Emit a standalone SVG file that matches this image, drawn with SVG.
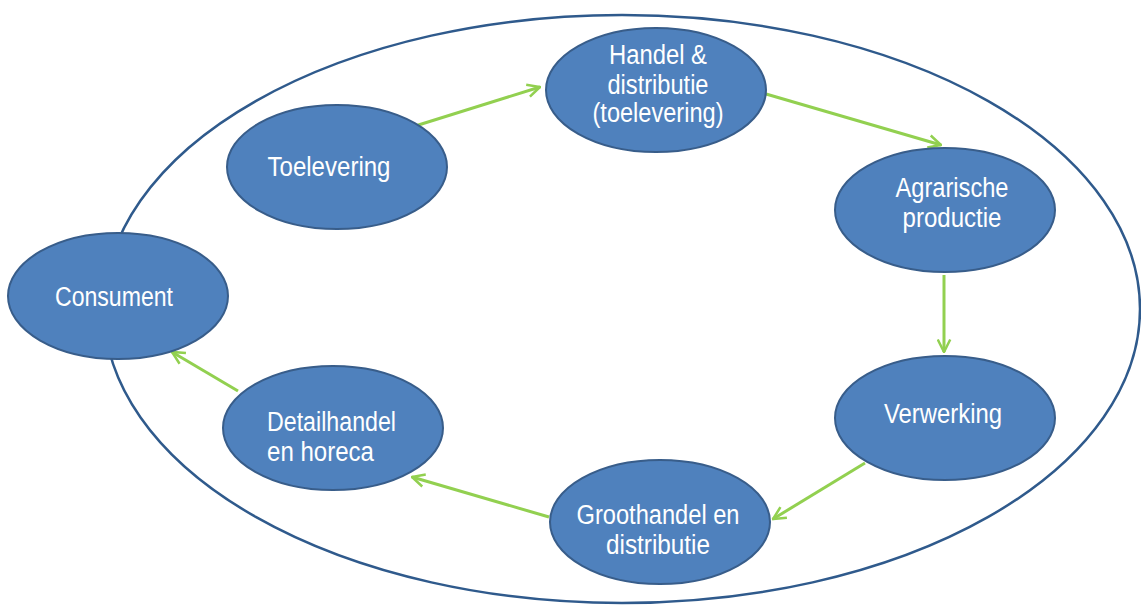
<svg xmlns="http://www.w3.org/2000/svg" width="1141" height="605" viewBox="0 0 1141 605">
<style>
.node ellipse{fill:#4F81BD;stroke:#385D8A;stroke-width:2}
.node text{fill:#FFFFFF;font-family:"Liberation Sans",Arial,sans-serif;font-size:27px}
.c{text-anchor:middle}
.conn line{stroke:#92D050;stroke-width:3;fill:none}
</style>
<defs>
<marker id="arr" viewBox="0 0 12 12" refX="11" refY="6" markerWidth="15" markerHeight="15" markerUnits="userSpaceOnUse" orient="auto">
<path d="M1,1 L11,6 L1,11" fill="none" stroke="#92D050" stroke-width="2"/>
</marker>
</defs>
<rect width="1141" height="605" fill="#FFFFFF"/>
<ellipse id="outer" cx="622" cy="309" rx="518" ry="294" fill="none" stroke="#2F5A8C" stroke-width="2.5"/>
<g id="connectors" class="conn">
<line x1="412" y1="127" x2="540" y2="87" marker-end="url(#arr)"/>
<line x1="766" y1="94" x2="941" y2="145" marker-end="url(#arr)"/>
<line x1="944" y1="275" x2="944" y2="352" marker-end="url(#arr)"/>
<line x1="865" y1="463" x2="773" y2="519" marker-end="url(#arr)"/>
<line x1="549" y1="517" x2="412" y2="477" marker-end="url(#arr)"/>
<line x1="238" y1="391" x2="172" y2="352" marker-end="url(#arr)"/>
</g>
<g id="handel" class="node">
<ellipse cx="656" cy="90" rx="110" ry="62"/>
<text x="658" y="64" class="c" textLength="98" lengthAdjust="spacingAndGlyphs">Handel &amp;</text>
<text x="658" y="94" class="c" textLength="101" lengthAdjust="spacingAndGlyphs">distributie</text>
<text x="658" y="122" class="c" textLength="131" lengthAdjust="spacingAndGlyphs">(toelevering)</text>
</g>
<g id="toelevering" class="node">
<ellipse cx="337" cy="167" rx="110" ry="62"/>
<text x="329" y="176" class="c" textLength="123" lengthAdjust="spacingAndGlyphs">Toelevering</text>
</g>
<g id="agrarische" class="node">
<ellipse cx="945" cy="210" rx="110" ry="62"/>
<text x="952" y="197" class="c" textLength="113" lengthAdjust="spacingAndGlyphs">Agrarische</text>
<text x="952" y="227" class="c" textLength="99" lengthAdjust="spacingAndGlyphs">productie</text>
</g>
<g id="consument" class="node">
<ellipse cx="118" cy="296" rx="110" ry="63"/>
<text x="114" y="306" class="c" textLength="118" lengthAdjust="spacingAndGlyphs">Consument</text>
</g>
<g id="verwerking" class="node">
<ellipse cx="945" cy="418" rx="110" ry="62"/>
<text x="943" y="423" class="c" textLength="118" lengthAdjust="spacingAndGlyphs">Verwerking</text>
</g>
<g id="detailhandel" class="node">
<ellipse cx="333" cy="428" rx="110" ry="62"/>
<text x="267" y="431" textLength="129" lengthAdjust="spacingAndGlyphs">Detailhandel</text>
<text x="267" y="461" textLength="107" lengthAdjust="spacingAndGlyphs">en horeca</text>
</g>
<g id="groothandel" class="node">
<ellipse cx="660" cy="522" rx="110" ry="62"/>
<text x="658" y="524" class="c" textLength="163" lengthAdjust="spacingAndGlyphs">Groothandel en</text>
<text x="658" y="554" class="c" textLength="104" lengthAdjust="spacingAndGlyphs">distributie</text>
</g>
</svg>
